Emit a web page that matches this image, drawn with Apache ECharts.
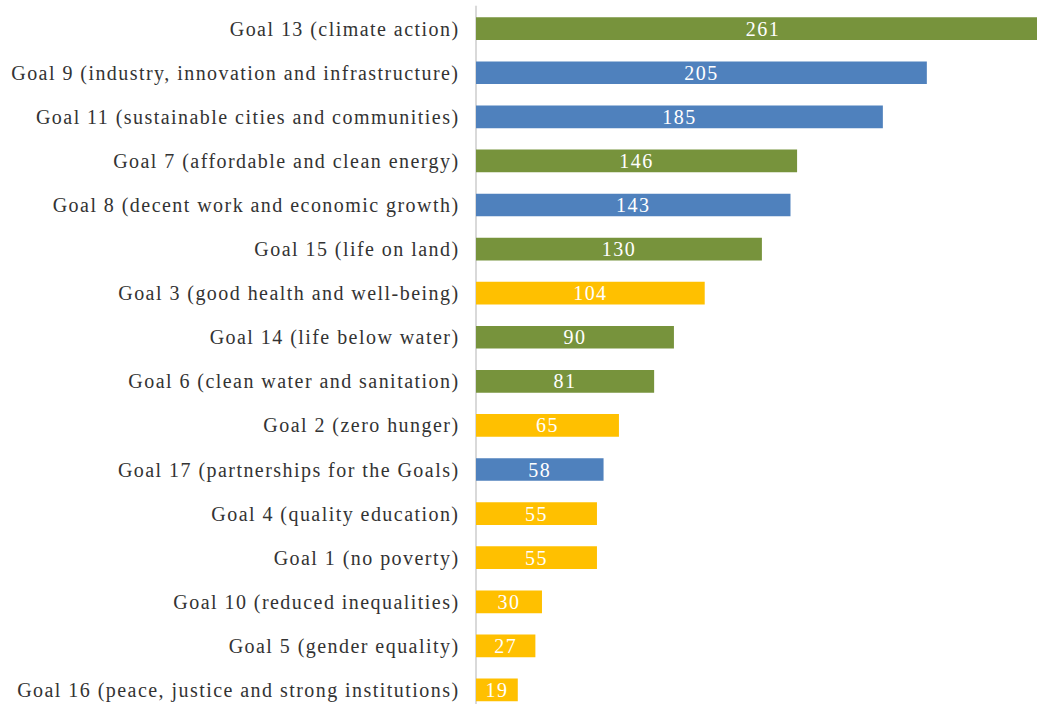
<!DOCTYPE html>
<html>
<head>
<meta charset="utf-8">
<script src="https://cdn.jsdelivr.net/npm/echarts@6/dist/echarts.min.js"></script>
<style>
  html, body { margin: 0; padding: 0; background: #fff; overflow: hidden; }
  /* the plot runs a little past the window on the right and bottom */
  #chart { width: 1050px; height: 712px; }
  #chart text { letter-spacing: 1.45px; }
</style>
</head>
<body>
<div id="chart"></div>
<script>
// SDG goals, listed top to bottom
const goals = [
  'Goal 13 (climate action)',
  'Goal 9 (industry, innovation and infrastructure)',
  'Goal 11 (sustainable cities and communities)',
  'Goal 7 (affordable and clean energy)',
  'Goal 8 (decent work and economic growth)',
  'Goal 15 (life on land)',
  'Goal 3 (good health and well-being)',
  'Goal 14 (life below water)',
  'Goal 6 (clean water and sanitation)',
  'Goal 2 (zero hunger)',
  'Goal 17 (partnerships for the Goals)',
  'Goal 4 (quality education)',
  'Goal 1 (no poverty)',
  'Goal 10 (reduced inequalities)',
  'Goal 5 (gender equality)',
  'Goal 16 (peace, justice and strong institutions)'
];
const counts = [261, 205, 185, 146, 143, 130, 104, 90, 81, 65, 58, 55, 55, 30, 27, 19];
// dimension of each goal: env = environment, eco = economy, soc = society
const groups = ['env', 'eco', 'eco', 'env', 'eco', 'env', 'soc', 'env', 'env', 'soc', 'eco', 'soc', 'soc', 'soc', 'soc', 'soc'];
const groupColors = { env: '#77933C', eco: '#4F81BD', soc: '#FFC000' };

const serif = '"Liberation Serif", "Times New Roman", serif';

const chart = echarts.init(document.getElementById('chart'), null, { renderer: 'svg' });
chart.setOption({
  animation: false,
  backgroundColor: '#ffffff',
  grid: { left: 476, right: 0, top: 6.6, bottom: 0, containLabel: false },
  xAxis: {
    type: 'value',
    min: 0,
    max: 261,
    show: false
  },
  yAxis: {
    type: 'category',
    data: goals,
    inverse: true,
    offset: 1,
    axisLine: { show: true, lineStyle: { color: '#d9d9d9', width: 2 } },
    axisTick: { show: false },
    splitLine: { show: false },
    axisLabel: {
      margin: 15.5,
      color: '#333333',
      fontFamily: serif,
      fontSize: 20
    }
  },
  series: [{
    type: 'bar',
    barWidth: '51.5%',
    data: counts.map((v, i) => ({ value: v, itemStyle: { color: groupColors[groups[i]] } })),
    label: {
      show: true,
      position: 'inside',
      color: '#ffffff',
      fontFamily: serif,
      fontSize: 20
    }
  }]
});
</script>
</body>
</html>
